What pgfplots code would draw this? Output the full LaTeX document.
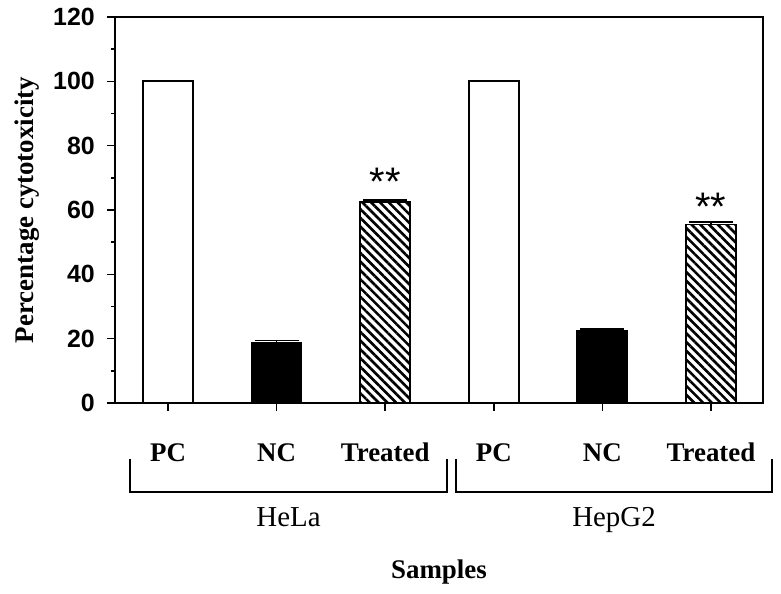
\documentclass[border=0pt]{standalone}
\usepackage{fontspec}
\setmainfont{Liberation Serif}
\setsansfont{Liberation Sans}
\usepackage{pgfplots}
\pgfplotsset{compat=1.18}
\usetikzlibrary{patterns.meta}
\begin{document}
\begin{tikzpicture}
\begin{axis}[
  scale only axis,
  width=648bp, height=386bp,
  xmin=-0.488, xmax=5.479,
  ymin=0, ymax=120,
  clip=false,
  axis line style={line width=1.8bp},
  ytick={0,20,...,120},
  minor ytick={10,30,...,110},
  xtick={0,1,2,3,4,5},
  xticklabels={PC,NC,Treated,PC,NC,Treated},
  tick align=outside,
  xtick pos=bottom, ytick pos=left,
  major tick length=8bp, minor tick length=4bp,
  every tick/.style={black, line width=1.5bp},
  /pgf/number format/assume math mode=true,
  yticklabel style={font=\sffamily\bfseries\fontsize{25}{25}\selectfont, anchor=east, inner sep=0pt, xshift=-12bp},
  xticklabel style={font=\bfseries\fontsize{27}{27}\selectfont, anchor=base, inner sep=0pt, yshift=-50bp},
  ylabel={Percentage cytotoxicity},
  ylabel style={font=\bfseries\fontsize{27}{27}\selectfont, at={(axis description cs:-0.1358,0.5)}, anchor=center},
  xlabel={Samples},
  xlabel style={font=\bfseries\fontsize{27}{27}\selectfont, at={(axis description cs:0.5,0)}, anchor=center, yshift=-169bp},
  ybar, bar width=50bp, bar shift=0pt,
  error bars/y dir=plus, error bars/y explicit,
  error bars/error mark=|,
  error bars/error bar style={line width=1.2bp, black},
  error bars/error mark options={line width=1.2bp, mark size=22bp, black},
]
\addplot[draw=black, fill=white, line width=1.8bp] coordinates {(0,100) (3,100)};
\addplot[draw=black, fill=black, line width=1.8bp,
  error bars/.cd, y dir=plus, y explicit] coordinates {(1,18.8) +- (0,0.6) (4,22.4) +- (0,0.6)};
\addplot[draw=black, line width=1.8bp, pattern={Lines[angle=-45, distance=6.2bp, line width=2.6bp]},
  error bars/.cd, y dir=plus, y explicit] coordinates {(2,62.6) +- (0,0.5) (5,55.5) +- (0,0.8)};
\node[font=\sffamily\fontsize{40}{40}\selectfont, anchor=base, inner sep=0pt] at (axis cs:2,64.5) {**};
\node[font=\sffamily\fontsize{40}{40}\selectfont, anchor=base, inner sep=0pt] at (axis cs:5,56.6) {**};
\draw[line width=1.8bp] (axis cs:-0.35,-17.4) -- (axis cs:-0.35,-27.7) -- (axis cs:2.569,-27.7) -- (axis cs:2.569,-17.4);
\draw[line width=1.8bp] (axis cs:2.652,-17.4) -- (axis cs:2.652,-27.7) -- (axis cs:5.562,-27.7) -- (axis cs:5.562,-17.4);
\node[font=\fontsize{29}{29}\selectfont, anchor=base] at (axis cs:1.11,-38.5) {HeLa};
\node[font=\fontsize{29}{29}\selectfont, anchor=base] at (axis cs:4.107,-38.5) {HepG2};
\end{axis}
\pgfresetboundingbox
\path (current axis.south west) ++(-115bp,-191bp) rectangle ++(781bp,594bp);
\end{tikzpicture}
\end{document}
